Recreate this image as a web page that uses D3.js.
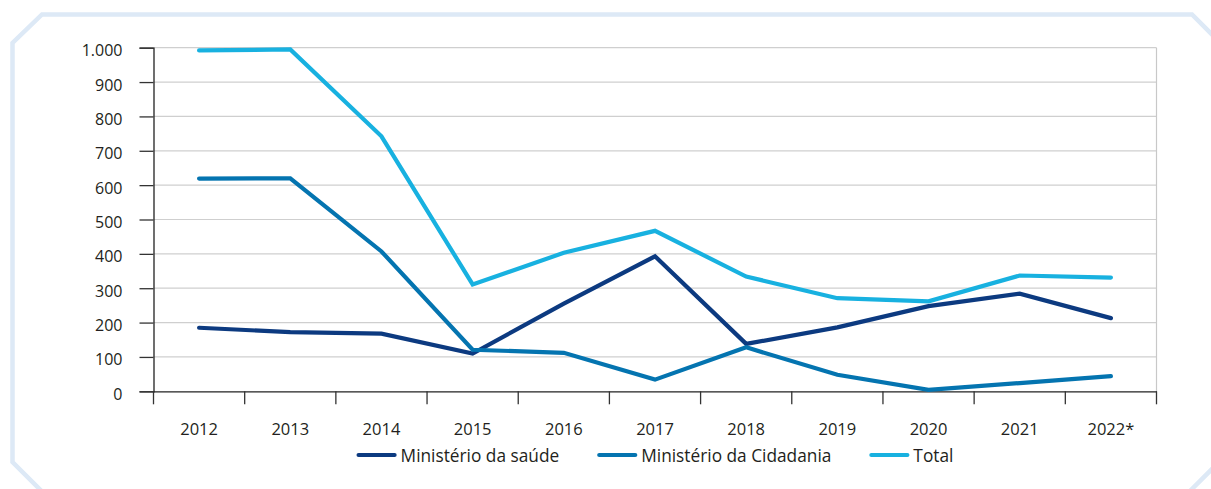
<!DOCTYPE html>
<html>
<head>
<meta charset="utf-8">
<script src="https://cdn.jsdelivr.net/npm/d3@7"></script>
<style>
  body { margin: 0; background: #fff; }
  svg { display: block; font-family: "Open Sans", sans-serif; }
</style>
</head>
<body>
<svg id="chart" width="1211" height="489"></svg>
<script>
// data
const years = ["2012", "2013", "2014", "2015", "2016", "2017", "2018", "2019", "2020", "2021", "2022*"];
const saude = [185, 172, 168, 110, 255, 393, 138, 186, 248, 284, 213];
const cidadania = [619, 620, 407, 121, 112, 34, 128, 48, 4, 24, 44];
const total = [992, 995, 742, 311, 403, 467, 334, 271, 262, 337, 331];
const yTicks = [0, 100, 200, 300, 400, 500, 600, 700, 800, 900, 1000];

const series = [
  { name: "Ministério da saúde", values: saude, color: "#0c3a80" },
  { name: "Ministério da Cidadania", values: cidadania, color: "#0474b0" },
  { name: "Total", values: total, color: "#18b1e0" }
];

const svg = d3.select("#chart");
const plotLeft = 153.5, plotRight = 1156.5, plotTop = 47.7, plotBottom = 391.3;

// light blue frame with cut corners
svg.append("polygon")
  .attr("points", [[42, 14.5], [1192, 14.5], [1230, 52.5], [1230, 451], [1171, 510], [60.5, 510], [12.5, 462], [12.5, 43]].join(" "))
  .attr("fill", "none")
  .attr("stroke", "#dde9f6")
  .attr("stroke-width", 4.5);

const x = d3.scaleBand().domain(years).range([plotLeft, plotRight]).padding(0);
const y = d3.scaleLinear().domain([0, 1000]).range([plotBottom, plotTop]);

const fmt = d3.formatLocale({ decimal: ",", thousands: ".", grouping: [3], currency: ["", ""] }).format(",d");

// gridlines
svg.append("g")
  .selectAll("line")
  .data(yTicks.filter(d => d > 0))
  .join("line")
  .attr("x1", plotLeft).attr("x2", plotRight)
  .attr("y1", d => y(d)).attr("y2", d => y(d))
  .attr("stroke", "#cfcfcf")
  .attr("stroke-width", 1.2);

svg.append("line")
  .attr("x1", plotRight).attr("x2", plotRight)
  .attr("y1", plotTop).attr("y2", plotBottom)
  .attr("stroke", "#c8c8c8")
  .attr("stroke-width", 1.2);

// y axis
const yAxis = svg.append("g")
  .attr("transform", `translate(${plotLeft},0)`)
  .call(d3.axisLeft(y).tickValues(yTicks).tickFormat(fmt).tickSize(14).tickPadding(17));
yAxis.select(".domain").attr("stroke", "#222").attr("stroke-width", 1.3);
yAxis.selectAll(".tick line").attr("stroke", "#333").attr("stroke-width", 1.3);
yAxis.selectAll("text")
  .attr("fill", "#231f20")
  .attr("font-size", "16px")
  .attr("dy", "0.5em")
  .attr("font-family", "Open Sans");

// x axis
const xAxis = svg.append("g")
  .attr("transform", `translate(0,${plotBottom})`)
  .call(d3.axisBottom(x).tickSize(0).tickPadding(32));
xAxis.select(".domain").attr("stroke", "#222").attr("stroke-width", 1.3);
xAxis.selectAll("text")
  .attr("fill", "#231f20")
  .attr("font-size", "16.5px")
  .attr("font-family", "Open Sans");

// tick marks between the year bands
svg.append("g")
  .selectAll("line")
  .data(years.map(d => x(d)).concat([plotRight]))
  .join("line")
  .attr("x1", d => d).attr("x2", d => d)
  .attr("y1", plotBottom).attr("y2", plotBottom + 13)
  .attr("stroke", "#333")
  .attr("stroke-width", 1.3);

// lines
const line = d3.line()
  .x((d, i) => x(years[i]) + x.bandwidth() / 2)
  .y(d => y(d));

svg.append("g")
  .selectAll("path")
  .data(series)
  .join("path")
  .attr("d", d => line(d.values))
  .attr("fill", "none")
  .attr("stroke", d => d.color)
  .attr("stroke-width", 4.2)
  .attr("stroke-linecap", "round")
  .attr("stroke-linejoin", "miter");

// legend, centred under the plot
const legend = svg.append("g")
  .selectAll("g")
  .data(series)
  .join("g");

legend.append("line")
  .attr("x1", 2).attr("x2", 38)
  .attr("y1", 455).attr("y2", 455)
  .attr("stroke", d => d.color)
  .attr("stroke-width", 4.2)
  .attr("stroke-linecap", "round");

legend.append("text")
  .attr("x", 44)
  .attr("y", 462)
  .attr("fill", "#231f20")
  .attr("font-size", "17.3px")
  .text(d => d.name);

const widths = [];
legend.selectAll("text").each(function() { widths.push(this.getComputedTextLength()); });
const itemW = widths.map(w => 44 + w);
const gap = 38;
const totalW = d3.sum(itemW) + gap * (itemW.length - 1);
let cursor = (plotLeft + plotRight) / 2 - totalW / 2;
legend.attr("transform", (d, i) => {
  const t = `translate(${cursor},0)`;
  cursor += itemW[i] + gap;
  return t;
});
</script>
</body>
</html>
